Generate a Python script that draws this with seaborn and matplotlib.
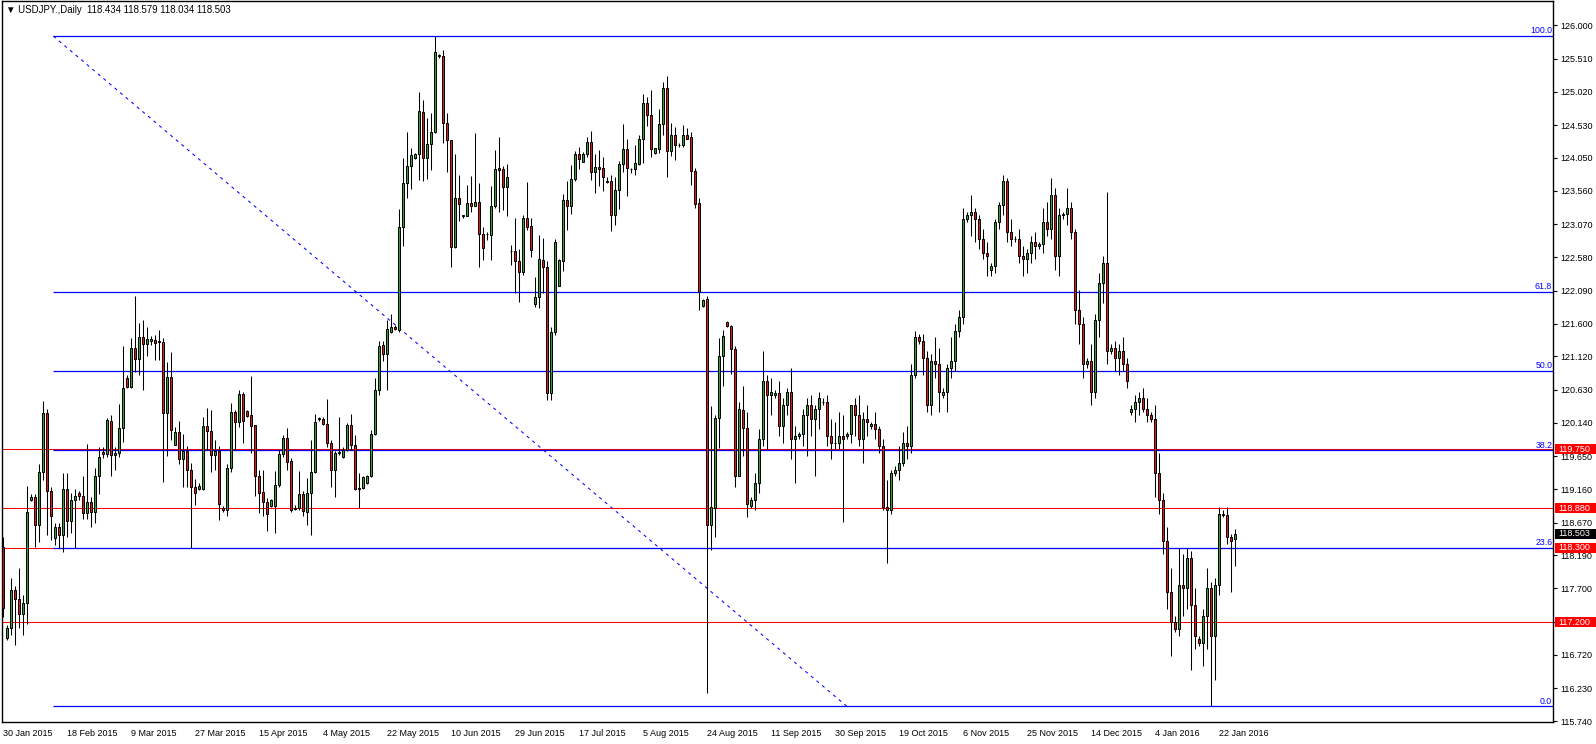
import numpy as np
import pandas as pd
import matplotlib
matplotlib.use("Agg")
import matplotlib.pyplot as plt
import matplotlib.transforms as mtransforms
from matplotlib.patches import Rectangle
import seaborn as sns

# daily candles, one per bar (broker has Sunday bars)
opens = [
    118.31, 116.97, 117.11, 117.68, 117.55, 117.32, 117.49, 119.01, 119.04, 118.63,
    119.41, 120.28, 119.14, 118.44, 118.61, 118.48, 119.17, 118.70, 119.01, 119.10,
    119.06, 118.81, 118.97, 118.82, 119.36, 119.71, 119.68, 120.17, 119.66, 119.69,
    120.07, 120.80, 120.67, 121.24, 121.08, 121.40, 121.30, 121.35, 121.36, 121.34,
    121.33, 120.28, 120.81, 119.82, 120.01, 119.60, 119.72, 119.45, 119.20, 119.16,
    119.16, 120.10, 120.02, 119.66, 119.73, 118.88, 118.85, 119.48, 120.30, 120.15,
    120.56, 120.32, 120.26, 120.11, 119.36, 119.12, 118.98, 118.92, 118.92, 119.23,
    119.68, 119.91, 119.58, 118.87, 118.88, 119.09, 118.83, 119.10, 119.41, 120.20,
    120.20, 120.13, 119.84, 119.45, 119.70, 119.63, 119.74, 120.11, 119.82, 119.16,
    119.18, 119.25, 119.35, 119.97, 120.62, 121.29, 121.15, 121.48, 121.56, 121.51,
    123.02, 123.67, 123.92, 124.04, 124.10, 124.72, 124.05, 124.25, 124.42, 125.55,
    125.55, 124.56, 124.31, 122.73, 123.46, 123.19, 123.19, 123.38, 123.34, 123.39,
    122.92, 122.92, 122.91, 123.33, 123.90, 123.88, 123.61, 122.67, 122.68, 122.52,
    122.37, 123.16, 123.04, 121.89, 122.00, 122.54, 122.43, 120.58, 121.48, 122.16,
    122.53, 123.43, 123.34, 123.73, 124.10, 123.99, 124.10, 124.28, 123.84, 123.91,
    123.89, 123.71, 123.71, 123.21, 123.57, 123.96, 124.17, 123.88, 123.88, 123.96,
    124.33, 124.86, 124.68, 124.12, 124.18, 124.54, 125.07, 124.15, 124.38, 124.24,
    124.24, 124.38, 124.35, 123.85, 123.38, 121.86, 121.96, 118.63, 118.89, 120.21,
    121.13, 121.63, 121.57, 121.23, 119.36, 120.33, 120.06, 118.92, 119.00, 119.25,
    119.90, 120.75, 120.55, 120.55, 120.58, 120.10, 120.40, 120.60, 119.90, 119.95,
    119.98, 120.25, 120.40, 120.20, 120.35, 120.45, 120.45, 119.95, 119.85, 119.85,
    119.95, 119.95, 119.97, 120.40, 120.25, 119.90, 120.20, 120.10, 120.12, 120.05,
    119.80, 118.90, 118.85, 119.40, 119.45, 119.55, 119.85, 119.80, 120.85, 121.40,
    121.35, 121.10, 120.40, 121.05, 121.00, 120.55, 120.60, 120.95, 121.05, 121.50,
    121.70, 123.15, 123.20, 123.25, 123.15, 122.85, 122.65, 122.40, 122.45, 123.10,
    123.35, 123.70, 122.95, 122.85, 122.85, 122.60, 122.55, 122.65, 122.80, 122.75,
    122.78, 123.10, 123.00, 123.50, 122.60, 123.20, 123.22, 123.30, 122.95, 121.80,
    121.60, 121.00, 121.05, 120.60, 121.65, 122.20, 122.50, 121.20, 121.25, 121.10,
    121.20, 121.00, 120.30, 120.35, 120.45, 120.50, 120.35, 120.25, 120.20, 119.40,
    119.00, 118.40, 117.65, 117.20, 117.10, 117.75, 117.70, 118.15, 117.45, 116.95,
    116.90, 117.30, 117.70, 117.00, 117.75, 118.80, 118.78, 118.45, 118.434,
]
highs = [
    118.46, 117.16, 117.86, 117.73, 118.00, 117.60, 119.21, 119.09, 119.09, 119.54,
    120.46, 120.35, 119.20, 118.66, 118.67, 119.40, 119.40, 119.10, 119.17, 119.13,
    119.35, 119.83, 119.05, 119.47, 119.78, 119.78, 120.21, 120.26, 119.78, 120.42,
    121.27, 120.85, 121.39, 122.01, 121.61, 121.66, 121.56, 121.42, 121.44, 121.51,
    121.39, 121.04, 121.19, 120.08, 120.16, 119.97, 119.80, 119.55, 119.31, 119.25,
    120.23, 120.36, 120.33, 119.89, 119.80, 118.91, 119.54, 120.43, 120.33, 120.62,
    120.60, 120.33, 120.83, 120.11, 119.45, 119.45, 119.03, 119.02, 119.43, 119.74,
    119.96, 120.07, 119.62, 118.93, 119.43, 119.13, 119.32, 119.89, 120.27, 120.23,
    120.22, 120.49, 119.89, 119.72, 120.22, 119.79, 120.14, 120.27, 119.96, 119.40,
    119.35, 119.37, 120.03, 120.80, 121.34, 121.34, 121.66, 121.75, 121.58, 123.29,
    124.05, 124.43, 124.19, 124.12, 125.02, 124.90, 124.64, 124.70, 125.84, 125.58,
    125.64, 124.71, 124.31, 124.10, 123.79, 123.20, 123.64, 123.78, 124.41, 123.67,
    123.03, 122.96, 123.63, 124.16, 124.35, 123.93, 123.96, 122.76, 123.16, 122.70,
    123.20, 123.69, 123.16, 122.29, 122.91, 122.86, 122.53, 121.55, 122.85, 122.55,
    123.51, 123.71, 123.94, 124.15, 124.20, 124.13, 124.35, 124.44, 124.11, 124.16,
    124.06, 123.77, 123.79, 123.77, 124.00, 124.55, 124.33, 123.90, 124.24, 124.38,
    124.99, 124.94, 125.04, 124.19, 124.77, 125.16, 125.25, 124.56, 124.50, 124.26,
    124.53, 124.48, 124.42, 123.90, 123.46, 121.97, 122.01, 120.39, 120.25, 121.39,
    121.51, 121.64, 121.58, 121.28, 120.45, 120.68, 120.30, 119.05, 119.40, 120.05,
    121.20, 120.85, 120.80, 120.62, 120.75, 120.50, 120.65, 120.95, 120.10, 120.00,
    120.35, 120.50, 120.55, 120.40, 120.60, 120.50, 120.55, 120.20, 120.15, 120.30,
    120.25, 120.00, 120.40, 120.50, 120.55, 120.30, 120.40, 120.15, 120.30, 120.10,
    119.90, 119.30, 119.45, 119.50, 119.80, 120.00, 120.10, 121.00, 121.50, 121.45,
    121.45, 121.20, 121.15, 121.40, 121.25, 120.65, 121.00, 121.40, 121.60, 121.80,
    123.30, 123.25, 123.50, 123.30, 123.20, 123.00, 122.80, 122.50, 123.15, 123.40,
    123.80, 123.75, 123.15, 122.90, 123.00, 122.75, 122.70, 122.90, 122.95, 122.80,
    123.30, 123.40, 123.75, 123.60, 123.30, 123.25, 123.60, 123.40, 123.00, 122.10,
    121.70, 121.10, 121.30, 121.75, 122.35, 122.60, 123.55, 121.30, 121.35, 121.30,
    121.40, 121.10, 120.40, 120.55, 120.60, 120.65, 120.50, 120.30, 120.40, 119.70,
    119.10, 118.60, 118.00, 117.30, 118.30, 118.20, 118.30, 118.25, 117.70, 117.00,
    117.40, 118.00, 117.80, 117.85, 118.90, 118.85, 118.90, 118.50, 118.579,
]
lows = [
    117.28, 116.94, 117.01, 116.87, 117.11, 117.01, 117.17, 118.99, 118.31, 118.39,
    119.30, 118.49, 118.41, 118.34, 118.29, 118.23, 118.46, 118.52, 118.29, 119.01,
    118.73, 118.73, 118.61, 118.67, 119.09, 119.62, 119.64, 119.36, 119.45, 119.64,
    119.86, 120.66, 120.65, 120.89, 120.85, 120.62, 121.12, 121.29, 121.07, 121.07,
    119.27, 119.65, 119.89, 119.81, 119.54, 119.20, 119.20, 118.30, 118.93, 119.15,
    119.15, 119.74, 119.42, 119.44, 118.71, 118.83, 118.76, 119.42, 119.74, 120.08,
    119.84, 120.23, 119.69, 119.06, 118.81, 118.76, 118.55, 118.90, 118.51, 119.20,
    119.64, 119.45, 118.83, 118.85, 118.86, 118.76, 118.63, 118.48, 119.40, 120.16,
    120.11, 119.79, 119.19, 119.04, 119.67, 119.62, 119.72, 119.74, 119.15, 118.88,
    119.16, 119.24, 119.34, 119.96, 120.55, 121.05, 120.62, 121.46, 121.51, 121.48,
    122.74, 123.46, 123.58, 124.03, 123.72, 123.71, 123.74, 123.86, 124.41, 125.52,
    124.26, 123.84, 122.43, 122.71, 123.11, 123.16, 123.19, 123.25, 123.33, 122.43,
    122.54, 122.84, 122.54, 123.30, 123.25, 123.28, 123.19, 122.47, 122.06, 121.92,
    122.32, 122.98, 122.58, 121.85, 121.84, 122.05, 120.48, 120.48, 121.43, 122.16,
    122.38, 122.98, 123.22, 123.71, 123.88, 123.98, 124.06, 123.72, 123.53, 123.63,
    123.56, 123.68, 122.97, 123.05, 123.29, 123.84, 123.49, 123.83, 123.80, 123.94,
    123.97, 124.51, 124.06, 124.11, 124.12, 124.38, 123.76, 124.08, 124.02, 124.20,
    124.21, 124.32, 123.65, 123.31, 121.81, 121.85, 116.16, 118.27, 118.45, 119.77,
    120.68, 121.55, 120.86, 119.20, 119.35, 119.65, 118.75, 118.88, 118.85, 119.10,
    119.80, 119.75, 120.25, 120.50, 119.95, 119.85, 120.25, 119.60, 119.25, 119.90,
    119.80, 119.65, 119.95, 119.35, 120.05, 120.40, 119.80, 119.60, 119.75, 119.75,
    118.68, 119.90, 119.85, 119.95, 119.80, 119.55, 119.95, 120.05, 119.90, 119.70,
    118.85, 118.07, 118.80, 119.35, 119.30, 119.50, 119.60, 119.70, 120.80, 121.30,
    120.85, 120.30, 120.25, 120.80, 120.30, 120.50, 120.30, 120.80, 120.90, 121.40,
    121.60, 123.10, 122.90, 122.80, 122.70, 122.55, 122.30, 122.30, 122.35, 123.00,
    123.20, 122.80, 122.75, 122.80, 122.50, 122.30, 122.35, 122.50, 122.55, 122.70,
    122.65, 122.90, 122.85, 122.40, 122.30, 123.15, 123.05, 122.85, 121.60, 121.30,
    120.80, 120.95, 120.40, 120.50, 121.40, 121.90, 121.00, 121.15, 120.90, 120.85,
    120.90, 120.65, 120.25, 120.15, 120.25, 120.30, 120.15, 120.15, 119.05, 118.80,
    118.20, 117.40, 116.70, 117.05, 117.00, 117.30, 117.40, 116.50, 116.80, 116.85,
    116.55, 116.80, 115.97, 116.35, 117.60, 118.75, 118.35, 117.65, 118.034,
]
closes = [
    117.41, 117.11, 117.68, 117.55, 117.32, 117.49, 118.83, 119.04, 118.63, 119.41,
    120.28, 119.14, 118.77, 118.61, 118.48, 119.17, 118.70, 119.01, 119.06, 119.06,
    118.81, 118.97, 118.82, 119.36, 119.63, 119.68, 120.18, 119.66, 119.70, 120.07,
    120.66, 120.67, 121.24, 121.08, 121.40, 121.30, 121.37, 121.37, 121.32, 121.33,
    120.28, 120.81, 120.03, 120.01, 119.60, 119.72, 119.45, 119.20, 119.10, 119.21,
    120.10, 120.02, 119.66, 119.73, 118.95, 118.85, 119.48, 120.30, 120.15, 120.56,
    120.16, 120.24, 120.10, 119.35, 119.11, 118.98, 118.79, 119.00, 119.23, 119.68,
    119.91, 119.57, 118.85, 118.88, 119.09, 118.84, 119.10, 119.41, 120.15, 120.21,
    120.12, 119.84, 119.45, 119.69, 119.71, 119.74, 120.11, 119.82, 119.16, 119.18,
    119.34, 119.36, 119.97, 120.62, 121.27, 121.15, 121.52, 121.56, 121.52, 123.03,
    123.67, 123.92, 124.09, 124.11, 124.74, 124.05, 124.25, 124.42, 125.60, 125.56,
    124.56, 124.31, 122.73, 123.46, 123.37, 123.20, 123.38, 123.34, 123.39, 122.92,
    122.71, 122.93, 123.33, 123.88, 123.87, 123.61, 123.76, 122.68, 122.53, 122.37,
    123.16, 123.03, 122.69, 122.00, 122.55, 122.43, 120.58, 121.48, 122.80, 122.54,
    123.43, 123.34, 123.73, 124.10, 124.03, 124.10, 124.28, 123.84, 123.91, 123.88,
    123.76, 123.69, 123.21, 123.57, 123.96, 124.17, 123.89, 123.88, 123.97, 124.33,
    124.86, 124.68, 124.18, 124.19, 124.54, 125.07, 124.15, 124.38, 124.24, 124.24,
    124.38, 124.33, 123.85, 123.37, 122.07, 121.95, 118.63, 118.90, 120.21, 121.13,
    121.42, 121.57, 121.23, 119.36, 120.35, 120.06, 118.95, 119.00, 119.25, 119.90,
    120.75, 120.55, 120.60, 120.58, 120.10, 120.40, 120.60, 119.90, 119.95, 119.98,
    120.25, 120.40, 120.20, 120.35, 120.50, 120.45, 119.95, 119.85, 119.85, 119.95,
    119.90, 119.97, 120.40, 120.25, 119.90, 120.20, 120.15, 120.12, 120.05, 119.80,
    118.90, 118.85, 119.40, 119.45, 119.55, 119.85, 119.80, 120.85, 121.40, 121.35,
    121.10, 120.40, 121.05, 121.00, 120.60, 120.60, 120.95, 121.05, 121.50, 121.70,
    123.15, 123.20, 123.25, 123.15, 122.85, 122.65, 122.60, 122.45, 123.10, 123.35,
    123.70, 122.95, 122.85, 122.85, 122.60, 122.55, 122.65, 122.80, 122.75, 122.78,
    123.10, 123.00, 123.50, 122.60, 123.20, 123.22, 123.30, 122.95, 121.80, 121.60,
    121.00, 121.05, 120.60, 121.65, 122.20, 122.50, 121.20, 121.25, 121.10, 121.20,
    121.00, 120.75, 120.35, 120.45, 120.50, 120.35, 120.25, 120.20, 119.40, 119.00,
    118.40, 117.65, 117.20, 117.10, 117.75, 117.70, 118.15, 117.45, 117.00, 116.90,
    117.30, 117.70, 117.00, 117.75, 118.80, 118.78, 118.45, 118.40, 118.503,
]

date_labels = ["30 Jan 2015", "18 Feb 2015", "9 Mar 2015", "27 Mar 2015", "15 Apr 2015",
               "4 May 2015", "22 May 2015", "10 Jun 2015", "29 Jun 2015", "17 Jul 2015",
               "5 Aug 2015", "24 Aug 2015", "11 Sep 2015", "30 Sep 2015", "19 Oct 2015",
               "6 Nov 2015", "25 Nov 2015", "14 Dec 2015", "4 Jan 2016", "22 Jan 2016"]
bars_per_label = 16

price_ticks = [126.000, 125.510, 125.020, 124.530, 124.050, 123.560, 123.070, 122.580,
               122.090, 121.600, 121.120, 120.630, 120.140, 119.650, 119.160, 118.670,
               118.190, 117.700, 117.210, 116.720, 116.230, 115.740]

fib_pcts = [100.0, 61.8, 50.0, 38.2, 23.6, 0.0]
fib_high = 125.84
fib_low = 115.96
fib_bars = [12.5, 210.9]   # anchor bars of the retracement tool

red_levels = [119.750, 118.880, 118.300, 117.200]
last_price = 118.503
title = "\u25bc USDJPY.,Daily  118.434 118.579 118.034 118.503"

sns.set_style("white")
plt.rcParams['font.family'] = ['Liberation Sans', 'DejaVu Sans']

df = pd.DataFrame({"open": opens, "high": highs, "low": lows, "close": closes})
df["bar"] = np.arange(len(df))
df["up"] = df["close"] >= df["open"]
df["body_lo"] = df[["open", "close"]].min(axis=1)
df["body_h"] = (df["close"] - df["open"]).abs()

W, H = 1596, 744
fig = plt.figure(figsize=(W / 100, H / 100), dpi=100)
# plot frame: x 2..1553, y 1..722 (pixels)
ax = fig.add_axes([2 / W, (H - 722.3) / H, 1551 / W, 721.3 / H])
ax.set_facecolor("white")

y_top = 126.358
y_bot = 115.726
x_left = -0.33
x_right = 387.4
ax.set_xlim(x_left, x_right)
ax.set_ylim(y_bot, y_top)

# horizontal support/resistance lines
for lv in red_levels:
    ax.axhline(lv, color="#ff0000", lw=0.75, zorder=1)

# fibonacci retracement
fib_prices = [fib_low + p / 100 * (fib_high - fib_low) for p in fib_pcts]
blend = mtransforms.blended_transform_factory(ax.transAxes, ax.transData)
for p, price in zip(fib_pcts, fib_prices):
    ax.hlines(price, fib_bars[0], x_right, color="#0000ff", lw=0.9, zorder=1.2)
    ax.text(0.9995, price + 0.012, f"{p:.1f}", transform=blend, ha="right", va="bottom",
            color="#0000ff", fontsize=6.3, zorder=3)
ax.plot(fib_bars, [fib_high, fib_low], color="#0000ff", lw=0.75, ls=(0, (3, 4)), zorder=1.2)

# candles
ax.vlines(df["bar"], df["low"], df["high"], color="black", lw=0.75, zorder=2)
colors = np.where(df["up"], "#33a133", "#e8141b")
ax.bar(df["bar"], df["body_h"], bottom=df["body_lo"], width=0.55, color=colors,
       edgecolor="black", linewidth=0.7, zorder=2.5)

# axes styling
for s in ax.spines.values():
    s.set_color("black")
    s.set_linewidth(1.0)
ax.yaxis.tick_right()
ax.set_yticks(price_ticks)
ax.set_yticklabels([f"{t:.3f}" for t in price_ticks])
ax.set_xticks(np.arange(len(date_labels)) * bars_per_label)
ax.set_xticklabels(date_labels, ha="left")
ax.tick_params(axis="both", which="both", direction="out", length=3, width=0.8,
               color="black", labelsize=6.5, labelcolor="black")
ax.tick_params(axis="y", pad=2)
ax.tick_params(axis="x", pad=1.5)
ax.grid(False)

# price tags on the right scale
box_h = 10 * (y_top - y_bot) / 721.3
x0 = (1555 - 2) / 1551
x1 = (1596 - 2) / 1551
for lv in red_levels:
    ax.add_patch(Rectangle((x0, lv - box_h / 2), x1 - x0, box_h, transform=blend,
                           facecolor="#ff0000", edgecolor="none", clip_on=False, zorder=5))
    ax.text((1558 - 2) / 1551, lv, f"{lv:.3f}", transform=blend, color="white",
            fontsize=6.5, va="center", ha="left", zorder=6, clip_on=False)
ax.add_patch(Rectangle((x0, last_price - box_h / 2), x1 - x0, box_h, transform=blend,
                       facecolor="black", edgecolor="none", clip_on=False, zorder=5))
ax.text((1558 - 2) / 1551, last_price, f"{last_price:.3f}", transform=blend, color="white",
        fontsize=6.5, va="center", ha="left", zorder=6, clip_on=False)

fig.text(6 / W, 1 - 10 / H, title, fontsize=6.9, va="center", ha="left", color="black")

fig.savefig("out.png", dpi=100)
